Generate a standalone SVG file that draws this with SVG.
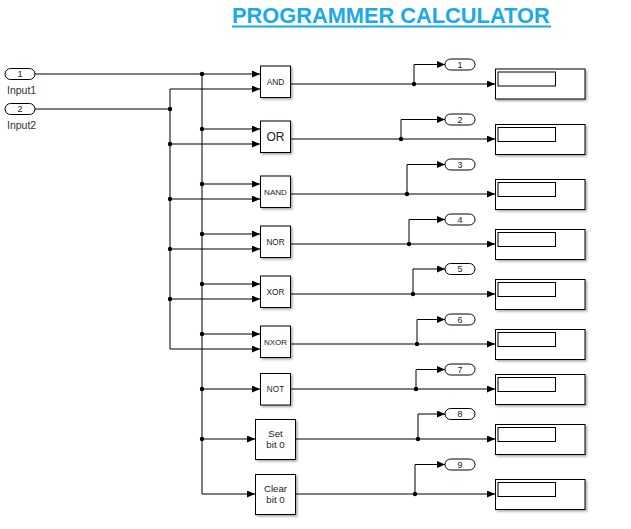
<svg xmlns="http://www.w3.org/2000/svg" width="631" height="529" viewBox="0 0 631 529">
<defs>
<marker id="ar" markerUnits="userSpaceOnUse" markerWidth="9" markerHeight="8" refX="8" refY="3.5" orient="auto">
<path d="M0,0 L8,3.5 L0,7 z" fill="#000"/>
</marker>
<filter id="sh" x="-20%" y="-20%" width="150%" height="150%">
<feDropShadow dx="1.5" dy="1.5" stdDeviation="1" flood-color="#000" flood-opacity="0.35"/>
</filter>
<style>
.w{fill:none;stroke:#000;stroke-width:1}
.a{marker-end:url(#ar)}
.d{fill:#000}
.blk{fill:#fff;stroke:#000;stroke-width:1;filter:url(#sh)}
.port{fill:#fff;stroke:#000;stroke-width:1}
.inner{fill:#fff;stroke:#000;stroke-width:1}
.t{font-family:"Liberation Sans",Arial,sans-serif;fill:#222;text-anchor:middle}
.pn{font-family:"Liberation Sans",Arial,sans-serif;fill:#222;text-anchor:middle;font-size:9px}
.lbl{font-family:"Liberation Sans",Arial,sans-serif;fill:#333;font-size:10.5px}
</style>
</defs>
<rect width="631" height="529" fill="#fff"/>
<g id="title">
<text x="232" y="22.5" font-family="Liberation Sans,Arial,sans-serif" font-weight="bold" font-size="21.8" fill="#1AA9E9">PROGRAMMER CALCULATOR</text>
<rect x="232" y="25.5" width="319" height="2" fill="#1AA9E9"/>
</g>
<g id="connectors">
<path class="w a" d="M35,74 H260"/>
<path class="w" d="M202,74 V494"/>
<path class="w a" d="M202,494 H255"/>
<path class="w a" d="M202,129 H260"/>
<path class="w a" d="M202,184 H260"/>
<path class="w a" d="M202,234 H260"/>
<path class="w a" d="M202,284 H260"/>
<path class="w a" d="M202,334 H260"/>
<path class="w a" d="M202,389 H260"/>
<path class="w a" d="M202,439 H255"/>
<path class="w" d="M35,109 H170"/>
<path class="w a" d="M170,349 V89 H260"/>
<path class="w a" d="M170,349 H260"/>
<path class="w a" d="M170,144 H260"/>
<path class="w a" d="M170,199 H260"/>
<path class="w a" d="M170,249 H260"/>
<path class="w a" d="M170,299 H260"/>
<g class="d">
<circle cx="202" cy="74" r="2.2"/><circle cx="202" cy="129" r="2.2"/><circle cx="202" cy="184" r="2.2"/>
<circle cx="202" cy="234" r="2.2"/><circle cx="202" cy="284" r="2.2"/><circle cx="202" cy="334" r="2.2"/>
<circle cx="202" cy="389" r="2.2"/><circle cx="202" cy="439" r="2.2"/>
<circle cx="170" cy="109" r="2.2"/><circle cx="170" cy="144" r="2.2"/><circle cx="170" cy="199" r="2.2"/>
<circle cx="170" cy="249" r="2.2"/><circle cx="170" cy="299" r="2.2"/>
</g>
<path class="w a" d="M291,84 H495"/><path class="w a" d="M414,84 V64.5 H445"/>
<path class="w a" d="M291,139 H495"/><path class="w a" d="M401,139 V119.5 H445"/>
<path class="w a" d="M291,194 H495"/><path class="w a" d="M407,194 V164.5 H445"/>
<path class="w a" d="M291,244 H495"/><path class="w a" d="M409,244 V219.5 H445"/>
<path class="w a" d="M291,294 H495"/><path class="w a" d="M413,294 V269 H445"/>
<path class="w a" d="M291,344 H495"/><path class="w a" d="M417,344 V319.5 H445"/>
<path class="w a" d="M291,389 H495"/><path class="w a" d="M416,389 V369.5 H445"/>
<path class="w a" d="M296,439 H495"/><path class="w a" d="M418,439 V414 H445"/>
<path class="w a" d="M296,494 H495"/><path class="w a" d="M415,494 V464.5 H445"/>
<g class="d">
<circle cx="414" cy="84" r="2.2"/><circle cx="401" cy="139" r="2.2"/><circle cx="407" cy="194" r="2.2"/>
<circle cx="409" cy="244" r="2.2"/><circle cx="413" cy="294" r="2.2"/><circle cx="417" cy="344" r="2.2"/>
<circle cx="416" cy="389" r="2.2"/><circle cx="418" cy="439" r="2.2"/><circle cx="415" cy="494" r="2.2"/>
</g>
</g>
<g id="in1"><rect class="port" x="5" y="68.5" width="30" height="11" rx="5.5"/><text class="pn" x="20" y="77.2">1</text><text class="lbl" x="7" y="94">Input1</text></g>
<g id="in2"><rect class="port" x="5" y="103.5" width="30" height="11" rx="5.5"/><text class="pn" x="20" y="112.2">2</text><text class="lbl" x="7" y="129">Input2</text></g>
<g id="and"><rect class="blk" x="260.5" y="66" width="30" height="31.5"/><text class="t" x="275.5" y="84.5" font-size="8.4">AND</text></g>
<g id="or"><rect class="blk" x="260.5" y="121" width="30" height="31.5"/><text class="t" x="275.5" y="141" font-size="12">OR</text></g>
<g id="nand"><rect class="blk" x="260.5" y="176" width="30" height="31.5"/><text class="t" x="275.5" y="194.5" font-size="8.1">NAND</text></g>
<g id="nor"><rect class="blk" x="260.5" y="226" width="30" height="31.5"/><text class="t" x="275.5" y="244.5" font-size="8.2">NOR</text></g>
<g id="xor"><rect class="blk" x="260.5" y="276" width="30" height="31.5"/><text class="t" x="275.5" y="294.5" font-size="8.3">XOR</text></g>
<g id="nxor"><rect class="blk" x="260.5" y="326" width="30" height="31.5"/><text class="t" x="275.5" y="344.5" font-size="8">NXOR</text></g>
<g id="not"><rect class="blk" x="260.5" y="373.5" width="30" height="31.5"/><text class="t" x="275.5" y="392" font-size="8.2">NOT</text></g>
<g id="setbit"><rect class="blk" x="255.5" y="419.5" width="40" height="40"/><text class="t" x="275.5" y="437" font-size="9.7">Set</text><text class="t" x="275.5" y="447.7" font-size="9.7">bit 0</text></g>
<g id="clearbit"><rect class="blk" x="255.5" y="474.5" width="40" height="40"/><text class="t" x="275.5" y="492" font-size="9.7">Clear</text><text class="t" x="275.5" y="502.7" font-size="9.7">bit 0</text></g>
<g id="out1"><rect class="port" x="445" y="59" width="30" height="11" rx="5.5"/><text class="pn" x="460" y="67.7">1</text></g>
<g id="out2"><rect class="port" x="445" y="114" width="30" height="11" rx="5.5"/><text class="pn" x="460" y="122.7">2</text></g>
<g id="out3"><rect class="port" x="445" y="159" width="30" height="11" rx="5.5"/><text class="pn" x="460" y="167.7">3</text></g>
<g id="out4"><rect class="port" x="445" y="214" width="30" height="11" rx="5.5"/><text class="pn" x="460" y="222.7">4</text></g>
<g id="out5"><rect class="port" x="445" y="263.5" width="30" height="11" rx="5.5"/><text class="pn" x="460" y="272.2">5</text></g>
<g id="out6"><rect class="port" x="445" y="314" width="30" height="11" rx="5.5"/><text class="pn" x="460" y="322.7">6</text></g>
<g id="out7"><rect class="port" x="445" y="364" width="30" height="11" rx="5.5"/><text class="pn" x="460" y="372.7">7</text></g>
<g id="out8"><rect class="port" x="445" y="408.5" width="30" height="11" rx="5.5"/><text class="pn" x="460" y="417.2">8</text></g>
<g id="out9"><rect class="port" x="445" y="459" width="30" height="11" rx="5.5"/><text class="pn" x="460" y="467.7">9</text></g>
<g id="disp1"><rect class="blk" x="495.5" y="69" width="89.5" height="30"/><rect class="inner" x="498" y="72" width="57.5" height="14"/></g>
<g id="disp2"><rect class="blk" x="495.5" y="124.5" width="89.5" height="30"/><rect class="inner" x="498" y="127.5" width="57.5" height="14"/></g>
<g id="disp3"><rect class="blk" x="495.5" y="179.5" width="89.5" height="30"/><rect class="inner" x="498" y="182.5" width="57.5" height="14"/></g>
<g id="disp4"><rect class="blk" x="495.5" y="229.5" width="89.5" height="30"/><rect class="inner" x="498" y="232.5" width="57.5" height="14"/></g>
<g id="disp5"><rect class="blk" x="495.5" y="279.5" width="89.5" height="30"/><rect class="inner" x="498" y="282.5" width="57.5" height="14"/></g>
<g id="disp6"><rect class="blk" x="495.5" y="329.5" width="89.5" height="30"/><rect class="inner" x="498" y="332.5" width="57.5" height="14"/></g>
<g id="disp7"><rect class="blk" x="495.5" y="374.5" width="89.5" height="30"/><rect class="inner" x="498" y="377.5" width="57.5" height="14"/></g>
<g id="disp8"><rect class="blk" x="495.5" y="424.5" width="89.5" height="30"/><rect class="inner" x="498" y="427.5" width="57.5" height="14"/></g>
<g id="disp9"><rect class="blk" x="495.5" y="479.5" width="89.5" height="30"/><rect class="inner" x="498" y="482.5" width="57.5" height="14"/></g>
</svg>
